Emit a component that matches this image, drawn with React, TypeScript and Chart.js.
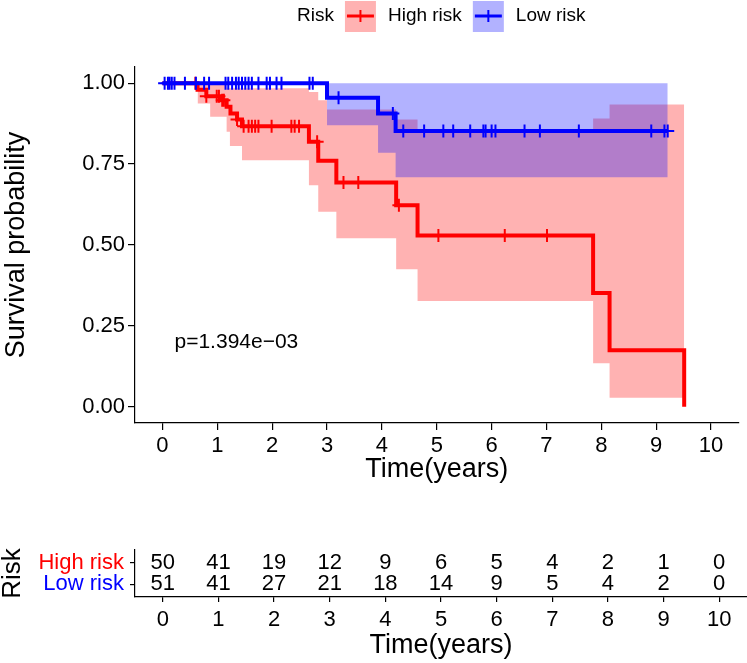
import React, { useEffect, useRef } from "react";
import { Chart, registerables } from "chart.js";

Chart.register(...registerables);

const FONT = "'Liberation Sans', Arial, Helvetica, sans-serif";
const RED = "#FF0000";
const BLUE = "#0000FF";
const RED_FILL = "rgba(255,0,0,0.3)";
const BLUE_FILL = "rgba(0,0,255,0.3)";

// axis ticks
const timeTicks = [0, 1, 2, 3, 4, 5, 6, 7, 8, 9, 10];
const survTicks = [0, 0.25, 0.5, 0.75, 1];

// groups
const riskGroups = ["High risk", "Low risk"];
const legendTitle = "Risk";
const pValueText = "p=1.394e\u221203";

// High risk KM curve (event times, survival after the step)
const highTimes = [0, 0.64, 0.8, 1.05, 1.17, 1.24, 1.36, 1.45, 2.67, 2.84, 3.17, 4.26, 4.65, 7.85, 8.15, 9.51];
const highSurv = [1, 0.98, 0.96, 0.947, 0.927, 0.906, 0.888, 0.867, 0.819, 0.76, 0.693, 0.623, 0.529, 0.352, 0.175, 0.0];
// High risk confidence band
const highBandTimes = [0.64, 0.87, 1.17, 1.23, 1.45, 2.67, 2.84, 3.0, 3.17, 4.26, 4.65, 7.85, 8.15, 9.51];
const highUpper = [1.0, 1.0, 0.984, 0.984, 0.984, 0.973, 0.947, 0.919, 0.919, 0.888, 0.85, 0.891, 0.934, 0.934];
const highLower = [0.937, 0.896, 0.85, 0.806, 0.762, 0.685, 0.603, 0.603, 0.521, 0.425, 0.327, 0.135, 0.028, 0.028];
// High risk censor times
const highCensor = [0.6, 0.8, 0.99, 1.03, 1.09, 1.12, 1.36, 1.48, 1.57, 1.63, 1.69, 1.75, 1.99, 2.35, 2.41, 2.49, 2.82, 3.3, 3.57, 4.31, 5.03, 6.24, 7.01];

// Low risk KM curve
const lowTimes = [0, 3.0, 3.93, 4.25, 9.21];
const lowSurv = [1, 0.955, 0.906, 0.852, 0.852];
// Low risk confidence band
const lowBandTimes = [3.0, 3.93, 4.25, 9.21];
const lowUpper = [1, 1, 1, 1];
const lowLower = [0.87, 0.785, 0.709, 0.709];
// Low risk censor times
const lowCensor = [0.04, 0.1, 0.13, 0.17, 0.22, 0.41, 0.61, 0.76, 0.85, 1.15, 1.2, 1.27, 1.34, 1.39, 1.45, 1.51, 1.57, 1.63, 1.75, 1.9, 1.96, 2.08, 2.17, 2.68, 2.74, 3.21, 4.2, 4.39, 4.77, 5.12, 5.3, 5.61, 5.85, 5.89, 6.0, 6.07, 6.6, 6.88, 7.59, 8.91, 9.15, 9.21];

// Number at risk table
const riskTimes = [0, 1, 2, 3, 4, 5, 6, 7, 8, 9, 10];
const highAtRisk = [50, 41, 19, 12, 9, 6, 5, 4, 2, 1, 0];
const lowAtRisk = [51, 41, 27, 21, 18, 14, 9, 5, 4, 2, 0];

function stepValue(times: number[], vals: number[], t: number) {
  let v = vals[0];
  for (let i = 0; i < times.length; i++) if (times[i] <= t) v = vals[i];
  return v;
}

const pts = (xs: number[], ys: number[]) => xs.map((x, i) => ({ x, y: ys[i] }));

export default function App() {
  const mainRef = useRef<HTMLCanvasElement>(null);
  const tableRef = useRef<HTMLCanvasElement>(null);

  useEffect(() => {
    const legendPlugin = {
      id: "kmLegend",
      afterDraw(chart: any) {
        const ctx = chart.ctx;
        ctx.save();
        ctx.font = `19px ${FONT}`;
        ctx.fillStyle = "#000";
        ctx.textBaseline = "middle";
        ctx.textAlign = "left";
        const cy = 16;
        let x = 297;
        ctx.fillText(legendTitle, x, cy);
        x += ctx.measureText(legendTitle).width + 11;
        const keys = [
          { fill: RED_FILL, color: RED, label: riskGroups[0] },
          { fill: BLUE_FILL, color: BLUE, label: riskGroups[1] },
        ];
        keys.forEach((k) => {
          ctx.fillStyle = k.fill;
          ctx.fillRect(x, 1, 31, 31);
          ctx.strokeStyle = k.color;
          ctx.lineWidth = 3;
          ctx.beginPath();
          ctx.moveTo(x + 2, cy);
          ctx.lineTo(x + 29, cy);
          ctx.stroke();
          ctx.lineWidth = 2;
          ctx.beginPath();
          ctx.moveTo(x + 15.5, cy - 6);
          ctx.lineTo(x + 15.5, cy + 6);
          ctx.stroke();
          x += 31 + 12;
          ctx.fillStyle = "#000";
          ctx.fillText(k.label, x, cy);
          x += ctx.measureText(k.label).width + 11;
        });
        // p-value
        const xs = chart.scales.x;
        const ys = chart.scales.y;
        ctx.font = `21px ${FONT}`;
        ctx.fillStyle = "#000";
        ctx.fillText(pValueText, xs.getPixelForValue(0.22), ys.getPixelForValue(0.2));
        ctx.restore();
      },
    };

    const main = new Chart(mainRef.current as HTMLCanvasElement, {
      type: "line",
      data: {
        datasets: [
          {
            label: "High upper",
            data: pts(highBandTimes, highUpper),
            stepped: true,
            borderWidth: 0,
            pointRadius: 0,
            backgroundColor: RED_FILL,
            borderColor: "rgba(0,0,0,0)",
            fill: 1,
            order: 8,
          },
          {
            label: "High lower",
            data: pts(highBandTimes, highLower),
            stepped: true,
            borderWidth: 0,
            pointRadius: 0,
            borderColor: "rgba(0,0,0,0)",
            fill: false,
            order: 7,
          },
          {
            label: "Low upper",
            data: pts(lowBandTimes, lowUpper),
            stepped: true,
            borderWidth: 0,
            pointRadius: 0,
            backgroundColor: BLUE_FILL,
            borderColor: "rgba(0,0,0,0)",
            fill: 3,
            order: 6,
          },
          {
            label: "Low lower",
            data: pts(lowBandTimes, lowLower),
            stepped: true,
            borderWidth: 0,
            pointRadius: 0,
            borderColor: "rgba(0,0,0,0)",
            fill: false,
            order: 5,
          },
          {
            label: riskGroups[0],
            data: pts(highTimes, highSurv),
            stepped: true,
            borderColor: RED,
            borderWidth: 4,
            pointRadius: 0,
            fill: false,
            order: 4,
          },
          {
            label: riskGroups[0] + " censor",
            data: highCensor.map((t) => ({ x: t, y: stepValue(highTimes, highSurv, t) })),
            showLine: false,
            pointStyle: "cross",
            pointRadius: 6.5,
            pointBorderWidth: 2,
            borderColor: RED,
            pointBorderColor: RED,
            order: 3,
          },
          {
            label: riskGroups[1],
            data: pts(lowTimes, lowSurv),
            stepped: true,
            borderColor: BLUE,
            borderWidth: 4,
            pointRadius: 0,
            fill: false,
            order: 2,
          },
          {
            label: riskGroups[1] + " censor",
            data: lowCensor.map((t) => ({ x: t, y: stepValue(lowTimes, lowSurv, t) })),
            showLine: false,
            pointStyle: "cross",
            pointRadius: 6.5,
            pointBorderWidth: 2,
            borderColor: BLUE,
            pointBorderColor: BLUE,
            order: 1,
          },
        ] as any,
      },
      options: {
        animation: false,
        responsive: false,
        events: [],
        layout: { padding: { top: 67, left: 0, right: 0, bottom: 0 } },
        plugins: { legend: { display: false }, tooltip: { enabled: false } },
        scales: {
          x: {
            type: "linear",
            min: -0.5,
            max: 10.5,
            afterBuildTicks: (s: any) => {
              s.ticks = timeTicks.map((v) => ({ value: v }));
            },
            afterFit: (s: any) => {
              s.height = 77;
            },
            grid: { drawOnChartArea: false, drawTicks: true, tickLength: 7, color: "#000", lineWidth: 1.2 },
            border: { display: true, color: "#000", width: 1.2 },
            ticks: {
              color: "#000",
              font: { family: FONT, size: 22 },
              padding: 3,
              maxRotation: 0,
              autoSkip: false,
              callback: (v: any) => String(v),
            },
            title: {
              display: true,
              text: "Time(years)",
              color: "#000",
              font: { family: FONT, size: 27 },
              padding: { top: 0, bottom: 14 },
            },
          },
          y: {
            type: "linear",
            min: -0.05,
            max: 1.05,
            afterBuildTicks: (s: any) => {
              s.ticks = survTicks.map((v) => ({ value: v }));
            },
            afterFit: (s: any) => {
              s.width = 135;
            },
            grid: { drawOnChartArea: false, drawTicks: true, tickLength: 7, color: "#000", lineWidth: 1.2 },
            border: { display: true, color: "#000", width: 1.2 },
            ticks: {
              color: "#000",
              font: { family: FONT, size: 22 },
              padding: 3,
              callback: (v: any) => Number(v).toFixed(2),
            },
            title: {
              display: true,
              text: "Survival probability",
              color: "#000",
              font: { family: FONT, size: 27, lineHeight: 1.2 },
              padding: { top: 0, bottom: 0 },
            },
          },
        },
      } as any,
      plugins: [legendPlugin],
    });

    const rowValue = [2, 1];
    const tablePlugin = {
      id: "riskNumbers",
      afterDatasetsDraw(chart: any) {
        const ctx = chart.ctx;
        ctx.save();
        ctx.font = `22px ${FONT}`;
        ctx.fillStyle = "#000";
        ctx.textAlign = "center";
        ctx.textBaseline = "middle";
        chart.data.datasets.forEach((ds: any, di: number) => {
          const meta = chart.getDatasetMeta(di);
          meta.data.forEach((el: any, i: number) => {
            ctx.fillText(String(ds.data[i].n), el.x, el.y);
          });
        });
        ctx.restore();
      },
    };

    const table = new Chart(tableRef.current as HTMLCanvasElement, {
      type: "line",
      data: {
        datasets: [
          {
            label: riskGroups[0],
            data: riskTimes.map((t, i) => ({ x: t, y: rowValue[0], n: highAtRisk[i] })),
            showLine: false,
            pointRadius: 0,
          },
          {
            label: riskGroups[1],
            data: riskTimes.map((t, i) => ({ x: t, y: rowValue[1], n: lowAtRisk[i] })),
            showLine: false,
            pointRadius: 0,
          },
        ] as any,
      },
      options: {
        animation: false,
        responsive: false,
        events: [],
        layout: { padding: { top: 50, left: 0, right: 0, bottom: 0 } },
        plugins: { legend: { display: false }, tooltip: { enabled: false } },
        scales: {
          x: {
            type: "linear",
            min: -0.5,
            max: 10.5,
            afterBuildTicks: (s: any) => {
              s.ticks = timeTicks.map((v) => ({ value: v }));
            },
            afterFit: (s: any) => {
              s.height = 66;
            },
            grid: { drawOnChartArea: false, drawTicks: true, tickLength: 5, color: "#000", lineWidth: 1.2 },
            border: { display: true, color: "#000", width: 1.2 },
            ticks: {
              color: "#000",
              font: { family: FONT, size: 22 },
              padding: 5,
              maxRotation: 0,
              autoSkip: false,
              callback: (v: any) => String(v),
            },
            title: {
              display: true,
              text: "Time(years)",
              color: "#000",
              font: { family: FONT, size: 27 },
              padding: { top: 0, bottom: 1 },
            },
          },
          y: {
            type: "linear",
            min: 0.4,
            max: 2.6,
            afterBuildTicks: (s: any) => {
              s.ticks = rowValue.map((v) => ({ value: v }));
            },
            afterFit: (s: any) => {
              s.width = 135;
            },
            grid: { drawOnChartArea: false, drawTicks: true, tickLength: 5, color: "#000", lineWidth: 1.2 },
            border: { display: true, color: "#000", width: 1.2 },
            ticks: {
              font: { family: FONT, size: 22 },
              padding: 6,
              color: (c: any) => (c.tick && c.tick.value === rowValue[0] ? RED : BLUE),
              callback: (v: any) => riskGroups[rowValue.indexOf(Number(v))],
            },
            title: {
              display: true,
              text: legendTitle,
              color: "#000",
              font: { family: FONT, size: 26, lineHeight: 1.0 },
              padding: { top: 0, bottom: 0 },
            },
          },
        },
      } as any,
      plugins: [tablePlugin],
    });

    return () => {
      main.destroy();
      table.destroy();
    };
  }, []);

  return (
    <div style={{ position: "absolute", left: 0, top: 0, width: 747, height: 663, background: "#fff" }}>
      <canvas ref={mainRef} width={747} height={500} style={{ display: "block" }} />
      <canvas ref={tableRef} width={747} height={163} style={{ display: "block" }} />
    </div>
  );
}
